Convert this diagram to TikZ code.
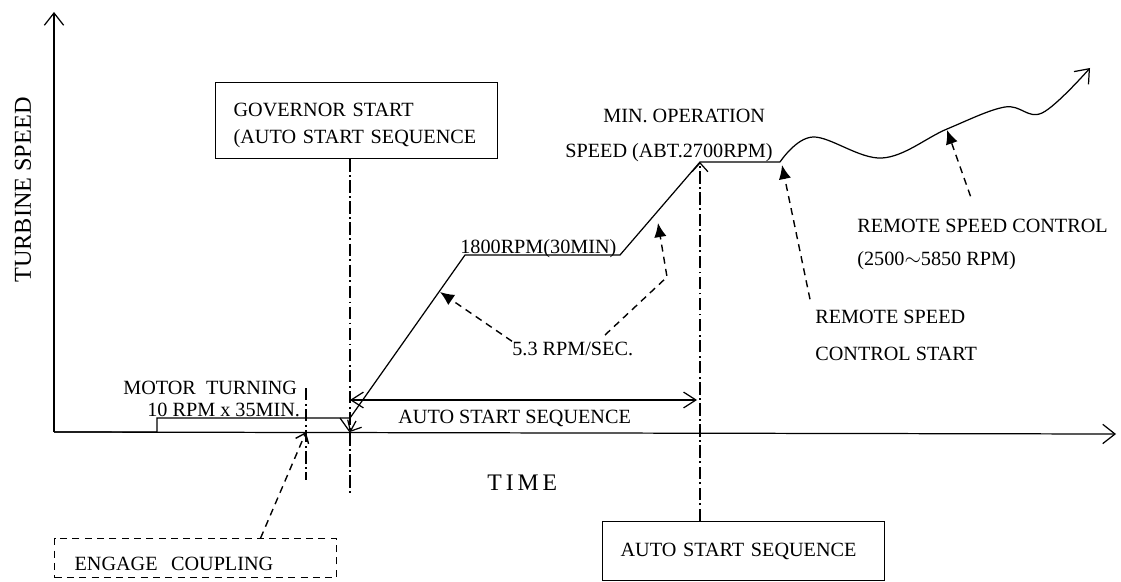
\documentclass[tikz,border=0pt]{standalone}
\usepackage{fontspec}
\setmainfont{Liberation Serif}
\usetikzlibrary{arrows.meta, calc}

\begin{document}
\begin{tikzpicture}[x=0.02cm, y=-0.02cm,
  every node/.style={font=\fontsize{11.5}{15.3}\selectfont, inner sep=0pt},
  axis/.style={line width=0.7pt, -{Straight Barb[length=7pt, width=11pt]}},
  trace/.style={line width=0.7pt},
  centreline/.style={line width=0.7pt, dash pattern=on 7pt off 2pt on 1pt off 2pt},
  leader/.style={line width=0.8pt, dash pattern=on 4pt off 3pt, -{Latex[length=8pt, width=7pt]}},
  notebox/.style={draw, line width=0.7pt, inner xsep=0.36cm, text width=4.92cm, align=left}]

% Frame
\useasboundingbox (0,0) rectangle (1121,581);

% Axes
\coordinate (O) at (54,432);
\coordinate (ytip) at (54,12);
\coordinate (xtip) at (1116,434);
\draw[axis] (O) -- (ytip);
\draw[axis] (O) -- (xtip);
\node[font=\fontsize{13.8}{16}\selectfont, rotate=90] (ylab) at (23,190) {TURBINE SPEED};
\node[font=\fontsize{13.5}{16}\selectfont, anchor=base west] (xlab) at (487,490) {T\,I\,M\,E};

% Key points of the speed trace
\coordinate (mstart) at (157,432);
\coordinate (mup) at (157,418);
\coordinate (gstart) at (350,418);
\coordinate (k1) at (465,255);
\coordinate (k2) at (620,255);
\coordinate (minspd) at (700,162);
\coordinate (rstart) at (780,162);

% --- Speed trace ---
\draw[trace] (O) -- (mstart) -- (mup) -- (gstart) -- (k1) -- (k2) -- (minspd) -- (rstart);
\draw[trace, -{Straight Barb[length=7pt, width=11pt]}]
  plot[smooth, tension=0.6] coordinates {(780,162) (813,137) (882,158) (947,129) (1005,107) (1042,113) (1090,68)};
\draw[trace] (340,418) -- (350,432);
\draw[trace, -{Straight Barb[length=5pt, width=9pt]}] (356,421) -- (350,432);

% --- Boxes ---
\node[notebox, minimum height=1.52cm, anchor=north west] (gov) at (215,82)
  {\rule{0pt}{13pt}GOVERNOR START\\(AUTO START SEQUENCE};
\node[notebox, minimum height=1.18cm, anchor=north west] (autobox) at (602,521)
  {AUTO START SEQUENCE};
\node[notebox, dashed, dash pattern=on 4pt off 3pt, minimum height=0.78cm,
      inner xsep=0.4cm, text width=4.84cm, anchor=north west] (eng) at (54,538)
  {\rule{0pt}{14pt}ENGAGE\ \ COUPLING};

% --- Centre lines ---
\coordinate (govfoot) at (350,495);
\coordinate (engtop) at (306,388);
\coordinate (engfoot) at (306,480);
\coordinate (engpt) at (306,432);
\draw[centreline] (gov.south -| govfoot) -- (govfoot);
\draw[centreline] (engtop) -- (engfoot);
\draw[centreline, -{Straight Barb[length=5pt, width=9pt]}] (autobox.north -| minspd) -- (minspd);

% --- Auto start sequence span ---
\coordinate (seqL) at (350,400);
\coordinate (seqR) at (697,400);
\draw[trace, {Straight Barb[length=7pt, width=9pt]}-{Straight Barb[length=7pt, width=9pt]}] (seqL) -- (seqR);
\node[anchor=base west] (seq) at (398,423) {AUTO START SEQUENCE};

% --- Labels ---
\node[anchor=base west] (motor) at (123,394) {MOTOR\ \ TURNING};
\node[anchor=base west] (motorrate) at (147,416) {10 RPM x 35MIN.};
\node[anchor=base west] (hold) at (460,253) {1800RPM(30MIN)};
\node[anchor=base west] (rate) at (512,355) {5.3 RPM/SEC.};
\node[anchor=base west] (min1) at (603,122) {MIN. OPERATION};
\node[anchor=base west] (min2) at (565,157) {SPEED (ABT.2700RPM)};
\node[anchor=base west] (rsc1) at (857,232) {REMOTE SPEED CONTROL};
\node[anchor=base west] (rsc2) at (857,265) {(2500$\sim$5850 RPM)};
\node[anchor=base west] (rss1) at (815,323) {REMOTE SPEED};
\node[anchor=base west] (rss2) at (815,360) {CONTROL START};

% --- Leaders ---
\coordinate (rampA) at (440,292);
\coordinate (rateB) at (605,335);
\coordinate (bend) at (667,277);
\coordinate (rampB) at (658,223);
\coordinate (rsstip) at (782,165);
\coordinate (rsctip) at (947,130);
\draw[leader] (rate.north west) -- (rampA);
\draw[leader] (rateB) -- (bend) -- (rampB);
\draw[leader] ($(rss1.north west)+(-5,-10)$) -- (rsstip);
\draw[leader] ($(rsc1.north)+(-12,-22)$) -- (rsctip);
\draw[leader, -{Straight Barb[length=5pt, width=8pt]}] ($(eng.north)+(65,0)$) -- (engpt);

\end{tikzpicture}
\end{document}
